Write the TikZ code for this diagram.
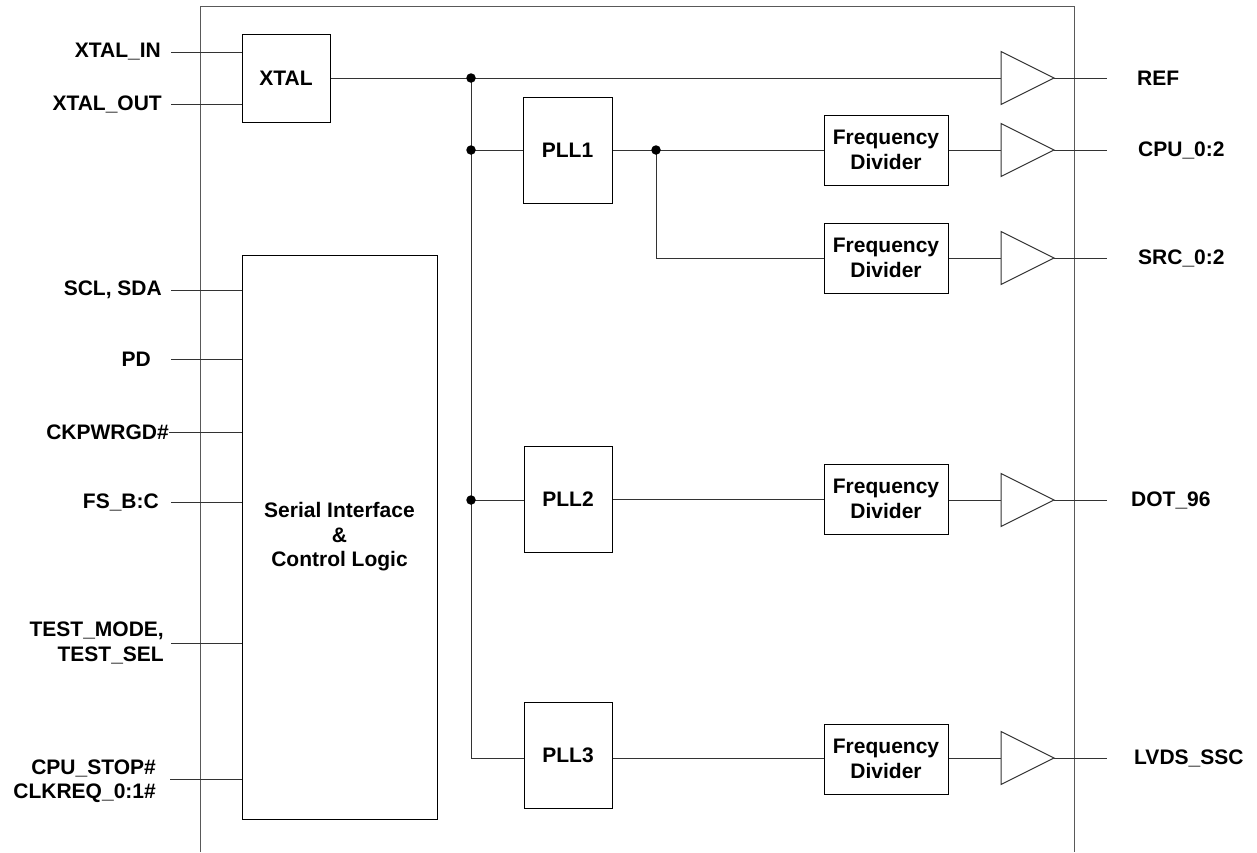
\documentclass[tikz,border=0pt]{standalone}
\usepackage{fontspec}
\setmainfont{Liberation Sans}
\newcommand\diaglbl{\bfseries\fontsize{21}{24.5}\selectfont}
\begin{document}
\begin{tikzpicture}[x=1pt,y=-1pt,
  blk/.style={draw=black, line width=1pt, inner sep=0pt, font=\diaglbl, align=center},
  wire/.style={line width=1pt, draw=black!80},
  frame/.style={line width=1pt, draw=black!65},
  lbl/.style={font=\diaglbl, inner sep=0pt},
  jdot/.style={circle, fill=black, inner sep=0pt, minimum size=9.5pt},
  buf/.style={line width=1pt, draw=black!80}]
\useasboundingbox (0,0) rectangle (1257,852);

% chip outline (open at bottom)
\draw[frame] (200,852) -- (200,6) -- (1074,6) -- (1074,852);

% blocks
\node[blk, minimum width=88pt, minimum height=88pt] (xtal) at (286,78) {XTAL};
\node[blk, minimum width=195pt, minimum height=564pt] (ser) at (339.5,537)
  {Serial Interface\\\&\\Control Logic};
\node[blk, minimum width=89pt, minimum height=106pt] (pll1) at (567.5,150) {PLL1};
\node[blk, minimum width=88pt, minimum height=106pt] (pll2) at (568,499) {PLL2};
\node[blk, minimum width=88pt, minimum height=106pt] (pll3) at (568,755) {PLL3};
\node[blk, minimum width=124pt, minimum height=70pt] (fd1) at (886,150) {Frequency\\Divider};
\node[blk, minimum width=124pt, minimum height=70pt] (fd2) at (886,258) {Frequency\\Divider};
\node[blk, minimum width=124pt, minimum height=70pt] (fd3) at (886,499) {Frequency\\Divider};
\node[blk, minimum width=124pt, minimum height=70pt] (fd4) at (886,759) {Frequency\\Divider};

% buffers
\foreach \n/\y in {1/78,2/150,3/258,4/500,5/758}{
  \draw[buf] (1001,\y-26.5) -- (1054,\y) -- (1001,\y+26.5) -- cycle;
  \coordinate (bin\n) at (1001,\y);
  \coordinate (bout\n) at (1054,\y);
  \coordinate (pin\n) at (1107,\y);
  \draw[wire] (bout\n) -- (pin\n);
}

% output labels
\node[lbl, anchor=west] (oref) at (1137,78) {REF};
\node[lbl, anchor=west] (ocpu) at (1138,150) {CPU\_0:2};
\node[lbl, anchor=west] (osrc) at (1138,258) {SRC\_0:2};
\node[lbl, anchor=west] (odot) at (1131,500) {DOT\_96};
\node[lbl, anchor=west] (olvds) at (1134,758) {LVDS\_SSC};

% junctions
\coordinate (j0) at (471,78);
\coordinate (j1) at (471,150);
\coordinate (j2) at (471,500);
\coordinate (j3) at (471,758);
\coordinate (k1) at (656,150);
\coordinate (k2) at (656,258);

% main clock wiring
\draw[wire] (xtal.east |- j0) -- (bin1);
\draw[wire] (j0) -- (j3) -- (pll3.west |- j3);
\draw[wire] (j1) -- (pll1.west |- j1);
\draw[wire] (j2) -- (pll2.west |- j2);
\draw[wire] (pll1.east |- k1) -- (fd1.west |- k1);
\draw[wire] (k1) -- (k2) -- (fd2.west |- k2);
\draw[wire] (pll2.east |- fd3.west) -- (fd3.west);
\draw[wire] (pll3.east |- j3) -- (fd4.west |- j3);
\draw[wire] (fd1.east) -- (bin2);
\draw[wire] (fd2.east) -- (bin3);
\draw[wire] (fd3.east |- bin4) -- (bin4);
\draw[wire] (fd4.east |- bin5) -- (bin5);
\node[jdot] at (j0) {};
\node[jdot] at (j1) {};
\node[jdot] at (j2) {};
\node[jdot] at (k1) {};

% input labels and wires
\node[lbl, anchor=east] (ixin) at (161,52) {XTAL\_IN};
\node[lbl, anchor=east] (ixout) at (162,104) {XTAL\_OUT};
\node[lbl, anchor=east] (iscl) at (162,290) {SCL, SDA};
\node[lbl, anchor=east] (ipd) at (151,359) {PD};
\node[lbl, anchor=east] (ickp) at (169,432) {CKPWRGD\#};
\node[lbl, anchor=east] (ifs) at (159,502) {FS\_B:C};
\node[lbl, anchor=east, align=right] (itest) at (164,643) {TEST\_MODE,\\TEST\_SEL};
\node[lbl, anchor=east, align=right] (icpu) at (156,781) {CPU\_STOP\#\\CLKREQ\_0:1\#};

\foreach \c/\y/\x/\b in {a/52/171/xtal, b/104/171/xtal, c/290/171/ser, d/359/171/ser,
    e/432/169/ser, f/502/171/ser, g/643/171/ser, h/779/170/ser}{
  \coordinate (in\c) at (\x,\y);
  \draw[wire] (in\c) -- (\b.west |- in\c);
}
\end{tikzpicture}
\end{document}
